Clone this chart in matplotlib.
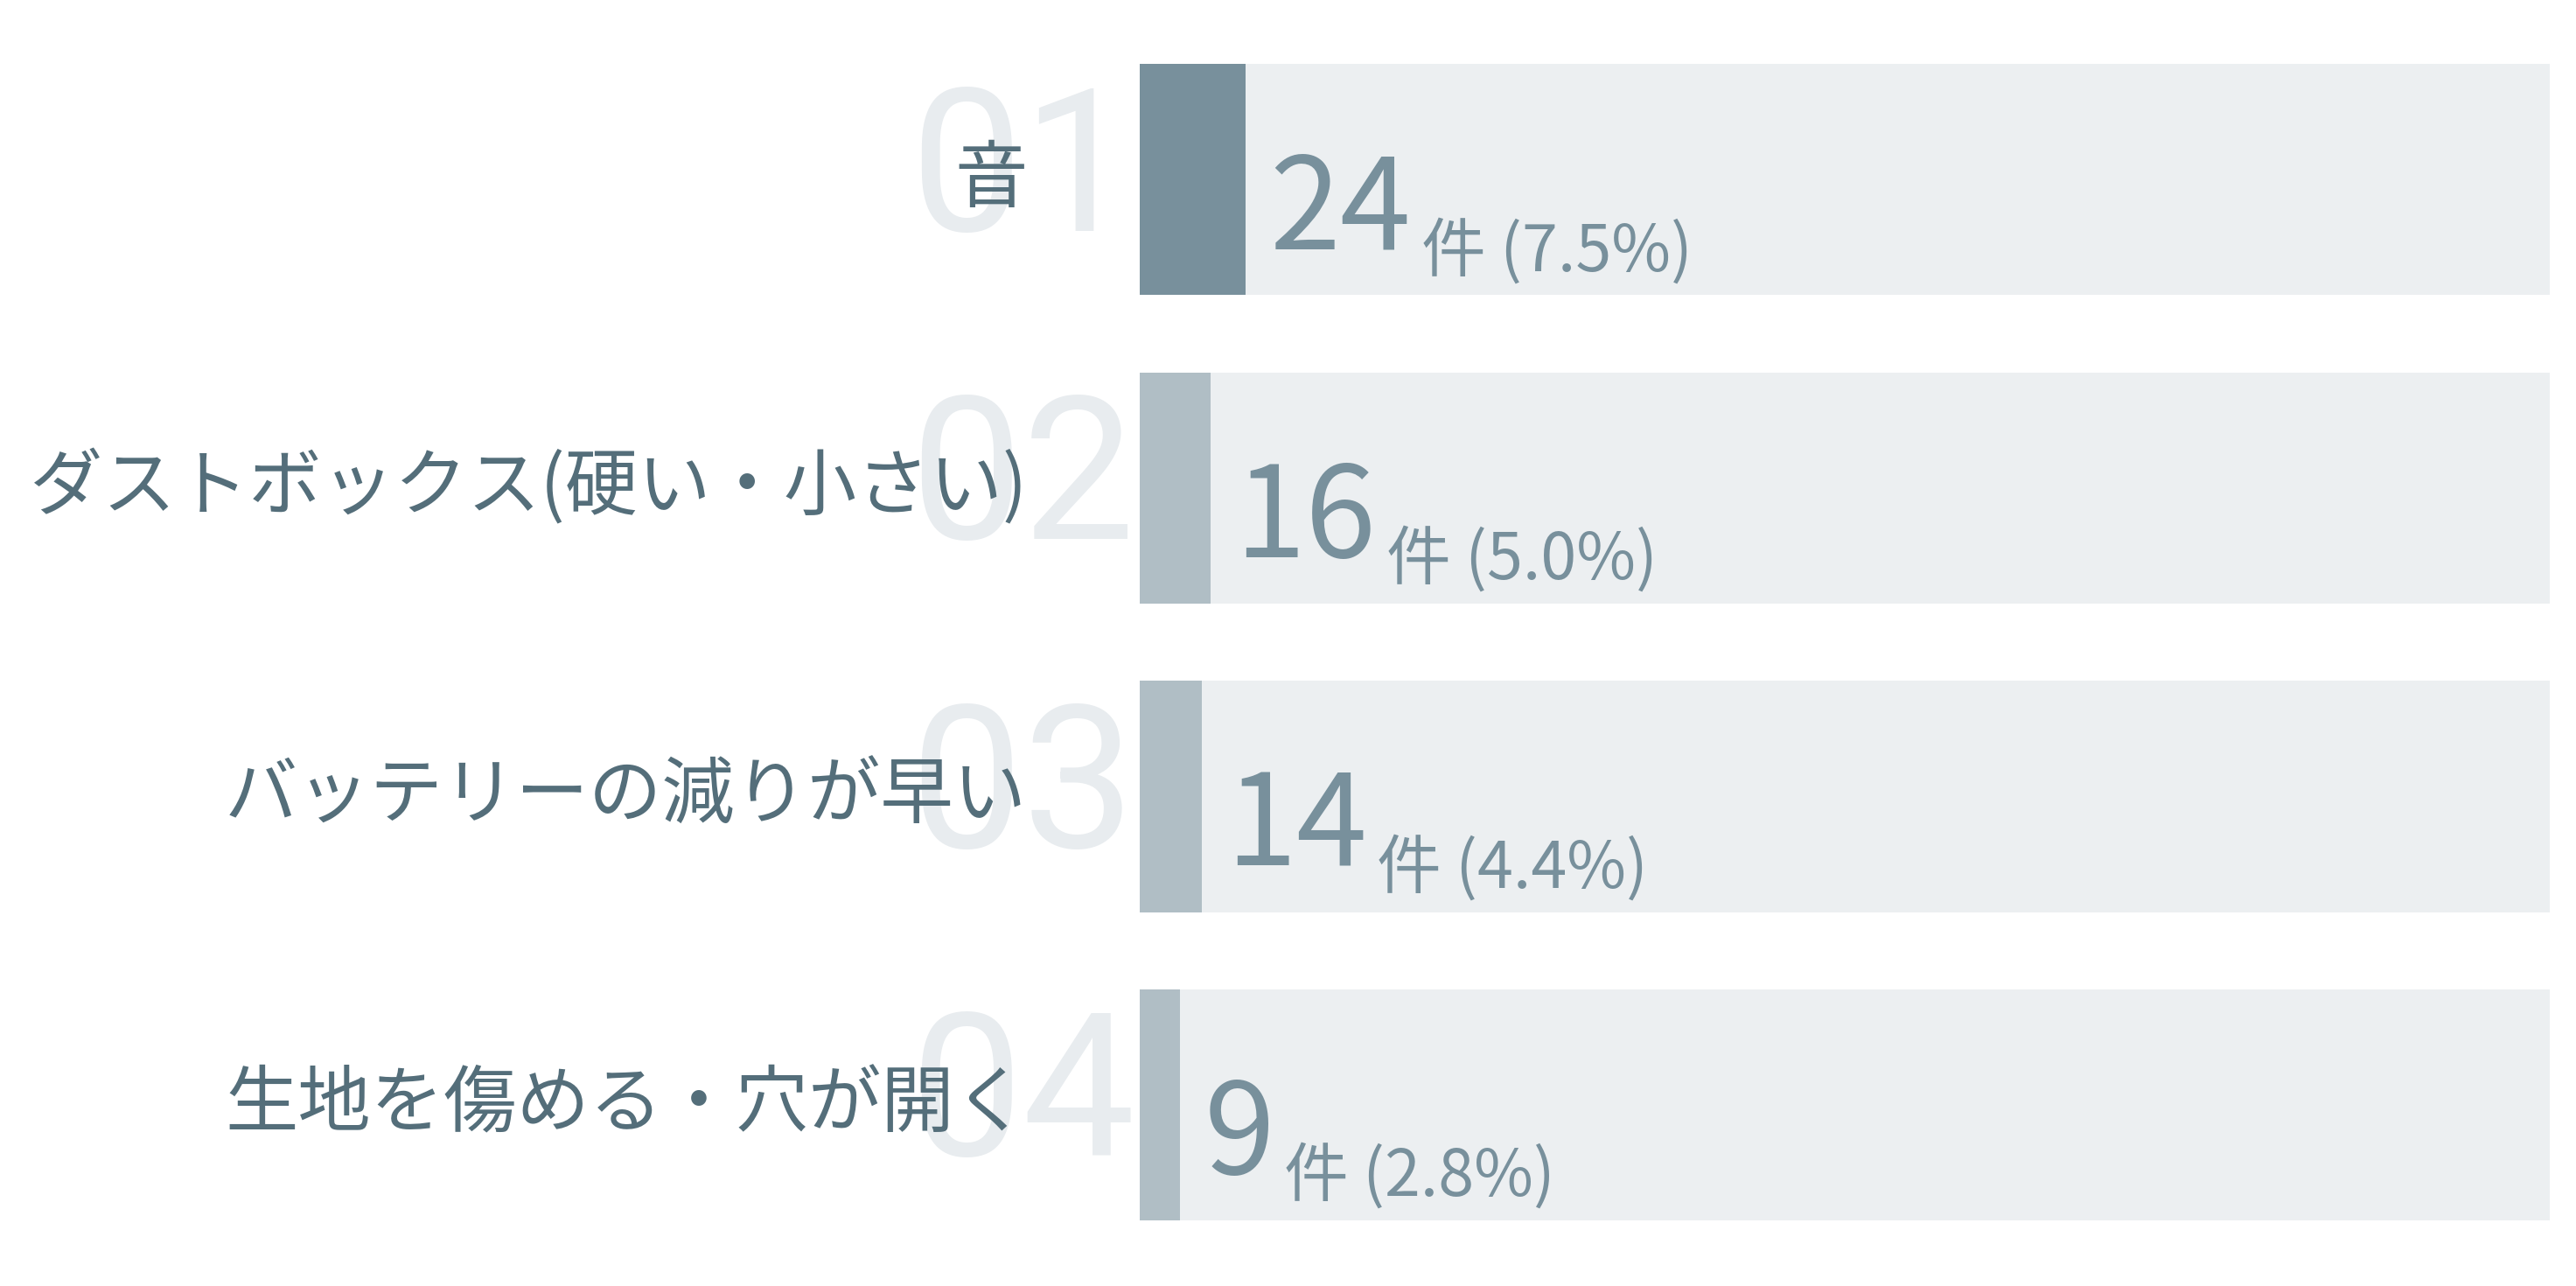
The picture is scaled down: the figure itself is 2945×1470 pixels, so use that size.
import numpy as np
import matplotlib
matplotlib.use("Agg")
import matplotlib.pyplot as plt

plt.rcParams['font.family'] = ['Noto Sans CJK JP', 'DejaVu Sans']

# データ
labels = ['音', 'ダストボックス(硬い・小さい)', 'バッテリーの減りが早い', '生地を傷める・穴が開く']
ranks = ['01', '02', '03', '04']
counts = [24, 16, 14, 9]
pcts = ['7.5%', '5.0%', '4.4%', '2.8%']
total = 321

bg_col = '#eceff1'
top_col = '#78909c'
other_col = '#b0bec5'
label_col = '#546e7a'
num_col = '#78909c'

fig = plt.figure(figsize=(29.45, 14.70), dpi=100)
ax = fig.add_axes([0.4426, 0.051, 0.5471, 0.8993])

y = np.arange(len(labels))
ax.barh(y, [total] * len(labels), height=0.75, color=bg_col, zorder=1)
cols = [top_col] + [other_col] * (len(labels) - 1)
ax.barh(y, counts, height=0.75, color=cols, zorder=2)

ax.set_xlim(0, total)
ax.set_ylim(3.375, -0.375)
ax.axis('off')

for i in range(len(labels)):
    # 大きい順位番号
    ax.annotate(ranks[i], xy=(0, i), xytext=(-4, 3), textcoords='offset points',
                ha='right', va='center', fontsize=165, color='#e8ecef',
                family=['Roboto', 'DejaVu Sans'],
                annotation_clip=False, zorder=0)
    # 項目名
    ax.annotate(labels[i], xy=(0, i), xytext=(-93, 0), textcoords='offset points',
                ha='right', va='center', fontsize=60, color=label_col,
                annotation_clip=False, zorder=3)
    # 件数
    t = ax.annotate(str(counts[i]), xy=(counts[i], i + 0.225), xytext=(20, 0),
                    textcoords='offset points', ha='left', va='baseline',
                    fontsize=105, color=num_col, zorder=3)
    ax.annotate('件 (' + pcts[i] + ')', xy=(1, 0), xycoords=t, xytext=(8, 6),
                textcoords='offset points', ha='left', va='baseline',
                fontsize=53, color=num_col, zorder=3)

fig.savefig('out.png', dpi=100, facecolor='white')
